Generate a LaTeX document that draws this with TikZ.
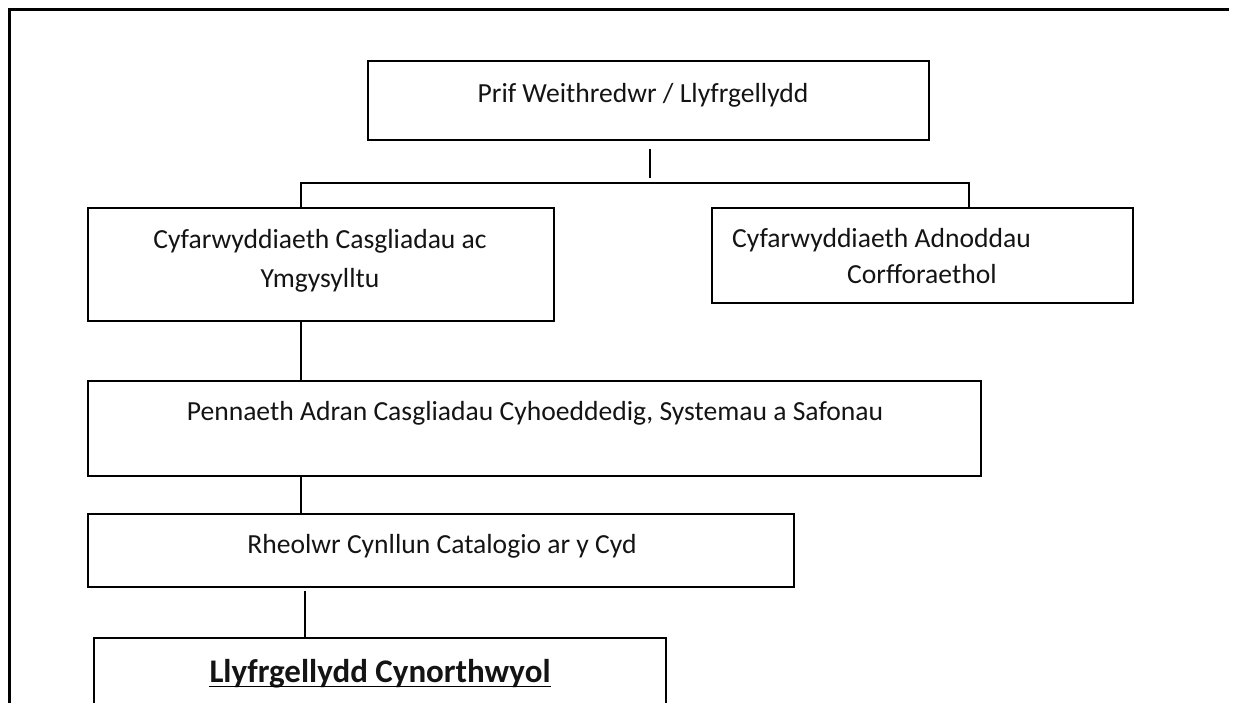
\documentclass[tikz,border=0pt]{standalone}
\usepackage{fontspec}
\setmainfont{Carlito}
\begin{document}
\begin{tikzpicture}[x=1pt,y=-1pt,
  box/.style={draw=black, line width=2pt, anchor=north west, inner sep=0pt, fill=none},
  lbl/.style={anchor=base, inner sep=0pt, text=black!92, font=\fontsize{27.6}{33}\selectfont},
  lblw/.style={lbl, anchor=base west},
  conn/.style={draw=black, line width=2pt},
  frame/.style={draw=black, line width=3pt}]
\useasboundingbox (0,0) rectangle (1233,702);
\clip (0,0) rectangle (1233,702);
% outer frame
\coordinate (f1) at (9,703);
\coordinate (f2) at (9,9);
\coordinate (f3) at (1229,9);
\draw[frame] (f1) -- (f2) -- (f3);
% boxes
\node[box, minimum width=561pt, minimum height=79pt] (b1) at (367,60) {};
\node[box, minimum width=466pt, minimum height=113pt] (b2) at (87,207) {};
\node[box, minimum width=421pt, minimum height=95pt] (b3) at (711,207) {};
\node[box, minimum width=893pt, minimum height=95pt] (b4) at (87,380) {};
\node[box, minimum width=706pt, minimum height=73pt] (b5) at (87,513) {};
\node[box, minimum width=572pt, minimum height=110pt] (b6) at (93,637) {};
% labels
\node[lbl] (t1) at (643,102) {Prif Weithredwr / Llyfrgellydd};
\node[lbl] (t2a) at (320,248) {Cyfarwyddiaeth Casgliadau ac};
\node[lbl] (t2b) at (320,287) {Ymgysylltu};
\node[lblw] (t3a) at (732,247) {Cyfarwyddiaeth Adnoddau};
\node[lblw] (t3b) at (847,283) {Corfforaethol};
\node[lbl] (t4) at (535,420) {Pennaeth Adran Casgliadau Cyhoeddedig, Systemau a Safonau};
\node[lbl] (t5) at (442,553) {Rheolwr Cynllun Catalogio ar y Cyd};
\node[lbl, font=\fontsize{33}{39}\selectfont\bfseries] (t6) at (380,682) {Llyfrgellydd Cynorthwyol};
\draw[line width=1.8pt] ([yshift=-4.5pt]t6.base west) -- ([yshift=-4.5pt]t6.base east);
% connectors
\coordinate (s1) at (650,149);
\coordinate (s2) at (650,178);
\draw[conn] (s1) -- (s2);
\coordinate (h2) at (301,183);
\coordinate (h3) at (969,183);
\draw[conn] (b2.north -| h2) -- (h2) -- (h3) -- (b3.north -| h3);
\draw[conn] (b2.south -| h2) -- (b4.north -| h2);
\draw[conn] (b4.south -| h2) -- (b5.north -| h2);
\coordinate (v6) at (305,591);
\draw[conn] (v6) -- (b6.north -| v6);
\end{tikzpicture}
\end{document}
